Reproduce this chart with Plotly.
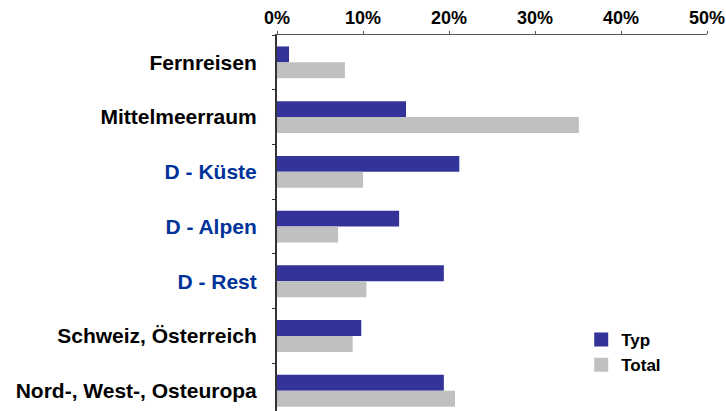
import plotly.graph_objects as go

categories = ["Fernreisen", "Mittelmeerraum", "D - Küste", "D - Alpen", "D - Rest",
              "Schweiz, Österreich", "Nord-, West-, Osteuropa"]
label_colors = ["#000000", "#000000", "#003399", "#003399", "#003399", "#000000", "#000000"]
typ_values = [1.4, 15.0, 21.2, 14.2, 19.4, 9.8, 19.4]
total_values = [7.9, 35.1, 10.0, 7.1, 10.4, 8.8, 20.7]
x_ticks = [0, 10, 20, 30, 40, 50]

series = [("Typ", typ_values, "#333399"), ("Total", total_values, "#C0C0C0")]

W, H = 726, 411
L, R, T = 277, 19.3, 35
PW, PH = W - L - R, H - T

fig = go.Figure()
for name, vals, col in series:
    fig.add_trace(go.Bar(y=categories, x=vals, orientation="h", name=name,
                         marker=dict(color=col, line=dict(width=0)),
                         showlegend=False))
for i, (name, vals, col) in enumerate(series):
    fig.add_trace(go.Scatter(x=[None], y=[None], mode="markers", name=name,
                             legendgroup=name,
                             marker=dict(symbol="square", size=14, color=col)))

ticktext = [f"<span style='color:{c}'>{t}</span>" for t, c in zip(categories, label_colors)]

fig.update_layout(
    width=W, height=H,
    margin=dict(l=L, r=R, t=T, b=0, pad=0, autoexpand=False),
    paper_bgcolor="white", plot_bgcolor="white",
    barmode="group", bargap=0.418, bargroupgap=0,
    font=dict(family="Liberation Sans, Arial, sans-serif", color="#000000"),
    xaxis=dict(side="top", range=[0, 50], tickvals=x_ticks,
               ticktext=[f"{v}%" for v in x_ticks], automargin=False,
               showgrid=False, zeroline=False,
               showline=True, linecolor="#555555", linewidth=1,
               ticks="outside", ticklen=3, tickcolor="#555555", tickwidth=1,
               tickfont=dict(size=18, weight="bold", color="#000000")),
    yaxis=dict(type="category", categoryorder="array", categoryarray=categories,
               range=[6.37, -0.5], tickmode="array", tickvals=categories,
               ticktext=ticktext, tickson="boundaries", automargin=False,
               ticklabelstandoff=14,
               showgrid=False, zeroline=False,
               showline=True, linecolor="#333333", linewidth=2,
               ticks="outside", ticklen=3, tickcolor="#333333", tickwidth=1,
               tickfont=dict(size=21, weight="bold")),
    legend=dict(x=(581 - L) / PW, y=1 - (322 - T) / PH,
                xanchor="left", yanchor="top", tracegroupgap=0,
                font=dict(size=17, weight="bold", color="#000000"),
                bgcolor="rgba(0,0,0,0)", borderwidth=0),
)

fig.write_html("out.html", config={"displayModeBar": False},
               post_script="document.body.style.margin='0px';document.body.style.overflow='hidden';")
